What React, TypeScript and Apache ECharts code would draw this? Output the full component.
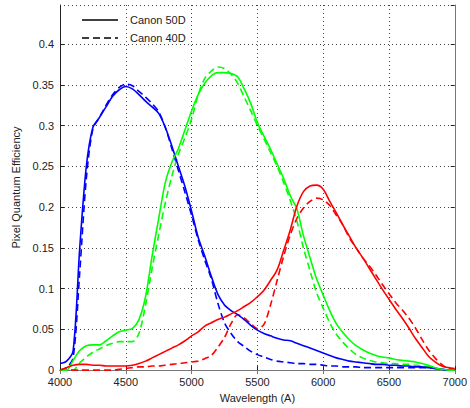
import React, { useEffect, useRef } from "react";
import * as echarts from "echarts";

const wavelengths = [
  4000, 4050, 4100, 4150, 4200, 4250, 4300, 4350, 4400, 4450, 4500, 4550, 4600, 4650, 4700, 4750,
  4800, 4850, 4900, 4950, 5000, 5050, 5100, 5150, 5200, 5250, 5300, 5350, 5400, 5450, 5500, 5550,
  5600, 5650, 5700, 5750, 5800, 5850, 5900, 5950, 6000, 6050, 6100, 6150, 6200, 6250, 6300, 6350,
  6400, 6450, 6500, 6550, 6600, 6650, 6700, 6750, 6800, 6850, 6900, 6950, 7000,
];

const blue50D = [
  0.008, 0.011, 0.024, 0.15, 0.25, 0.298, 0.31, 0.323, 0.336, 0.344, 0.348, 0.345, 0.338, 0.33, 0.323, 0.315,
  0.298, 0.275, 0.25, 0.225, 0.195, 0.163, 0.14, 0.115, 0.093, 0.08, 0.073, 0.068, 0.062, 0.055, 0.049, 0.045,
  0.042, 0.039, 0.037, 0.036, 0.033, 0.03, 0.027, 0.024, 0.021, 0.018, 0.015, 0.013, 0.011, 0.01, 0.009, 0.008,
  0.007, 0.007, 0.006, 0.006, 0.005, 0.005, 0.004, 0.004, 0.003, 0.002, 0.001, 0.0, 0.0,
];

const blue40D = [
  0.0, 0.003, 0.015, 0.12, 0.235, 0.296, 0.31, 0.325, 0.338, 0.347, 0.351, 0.349, 0.342, 0.335, 0.327, 0.317,
  0.298, 0.272, 0.245, 0.218, 0.19, 0.16, 0.135, 0.112, 0.082, 0.058, 0.045, 0.035, 0.029, 0.023, 0.019, 0.016,
  0.013, 0.011, 0.01, 0.009, 0.008, 0.008, 0.007, 0.007, 0.006, 0.005, 0.005, 0.004, 0.004, 0.004, 0.003, 0.003,
  0.003, 0.003, 0.003, 0.003, 0.003, 0.003, 0.003, 0.003, 0.003, 0.002, 0.001, 0.0, 0.0,
];

const green50D = [
  0.0, 0.0, 0.012, 0.024, 0.03, 0.031, 0.031, 0.036, 0.042, 0.047, 0.049, 0.051, 0.062, 0.09, 0.14, 0.186,
  0.23, 0.255, 0.272, 0.295, 0.318, 0.338, 0.352, 0.361, 0.365, 0.365, 0.364, 0.36, 0.345, 0.327, 0.304, 0.287,
  0.271, 0.253, 0.235, 0.214, 0.198, 0.165, 0.138, 0.112, 0.092, 0.073, 0.057, 0.046, 0.037, 0.03, 0.025, 0.021,
  0.018, 0.016, 0.015, 0.013, 0.012, 0.011, 0.01, 0.008, 0.006, 0.003, 0.001, 0.0, 0.0,
];

const green40D = [
  0.0, 0.0, 0.0, 0.009, 0.016, 0.022, 0.026, 0.03, 0.033, 0.035, 0.035, 0.035, 0.045, 0.08, 0.125, 0.166,
  0.205, 0.238, 0.265, 0.285, 0.308, 0.338, 0.358, 0.367, 0.372, 0.37, 0.363, 0.352, 0.335, 0.318, 0.3, 0.284,
  0.267, 0.25, 0.23, 0.208, 0.183, 0.15, 0.122, 0.095, 0.076, 0.058, 0.044, 0.034, 0.026, 0.019, 0.015, 0.012,
  0.01, 0.009, 0.008, 0.008, 0.007, 0.007, 0.006, 0.005, 0.004, 0.003, 0.001, 0.0, 0.0,
];

const red50D = [
  0.0, 0.003, 0.006, 0.007, 0.007, 0.006, 0.006, 0.005, 0.005, 0.005, 0.005, 0.006, 0.008, 0.011, 0.015, 0.019,
  0.023, 0.027, 0.031, 0.036, 0.042, 0.047, 0.054, 0.058, 0.062, 0.065, 0.069, 0.073, 0.078, 0.083, 0.09, 0.098,
  0.11, 0.123, 0.147, 0.172, 0.201, 0.219, 0.226, 0.227, 0.222, 0.207, 0.193, 0.178, 0.164, 0.15, 0.138, 0.125,
  0.112, 0.099, 0.087, 0.075, 0.064, 0.052, 0.039, 0.028, 0.017, 0.01, 0.005, 0.003, 0.002,
];

const red40D = [
  0.0, 0.0, 0.0, 0.0, 0.0, 0.0, 0.0, 0.0, 0.0, 0.001, 0.002, 0.003, 0.004, 0.004, 0.005, 0.005,
  0.006, 0.007, 0.008, 0.009, 0.01, 0.011, 0.014, 0.018, 0.028, 0.04, 0.057, 0.068, 0.064, 0.057, 0.051, 0.056,
  0.08, 0.11, 0.14, 0.166, 0.186, 0.199, 0.207, 0.211, 0.209, 0.202, 0.19, 0.178, 0.162, 0.15, 0.138, 0.128,
  0.117, 0.105, 0.094, 0.083, 0.074, 0.064, 0.052, 0.038, 0.025, 0.015, 0.007, 0.002, 0.0,
];

const legendNames = ["Canon 50D", "Canon 40D"];
const xTitle = "Wavelength (A)";
const yTitle = "Pixel Quantum Efficiency";

const FONT = "'Liberation Sans', Arial, Helvetica, sans-serif";

function pairs(vals: number[]) {
  return wavelengths.map((w, i) => [w, vals[i]]);
}

export default function App() {
  const ref = useRef<HTMLDivElement>(null);
  useEffect(() => {
    if (!ref.current) return;
    const chart = echarts.init(ref.current, null, { renderer: "svg" });
    const dash = [7, 4];
    const LW = 1.6;
    const mk = (name: string, vals: number[], color: string, dashed: boolean) => ({
      name,
      type: "line",
      data: pairs(vals),
      showSymbol: false,
      symbol: "none",
      smooth: 0.3,
      lineStyle: { color, width: LW, type: dashed ? dash : "solid" },
      itemStyle: { color },
      silent: true,
    });
    const legendGraphic = legendNames.flatMap((nm, i) => {
      const y = 20 + i * 18;
      return [
        {
          type: "line",
          shape: { x1: 82, y1: y, x2: 118, y2: y },
          style: { stroke: "#000", lineWidth: LW, lineDash: i === 0 ? null : dash },
          silent: true,
        },
        {
          type: "text",
          x: 130,
          y,
          style: {
            text: nm,
            fill: "#222",
            font: `11px ${FONT}`,
            textVerticalAlign: "middle",
            verticalAlign: "middle",
          },
          silent: true,
        },
      ];
    });
    chart.setOption({
      animation: false,
      backgroundColor: "#ffffff",
      textStyle: { fontFamily: FONT },
      grid: { left: 60, right: 10, top: 5, bottom: 36, containLabel: false },
      graphic: legendGraphic,
      xAxis: [
        {
          type: "value",
          min: 4000,
          max: 7000,
          interval: 500,
          name: xTitle,
          nameLocation: "middle",
          nameGap: 21,
          nameTextStyle: { fontFamily: FONT, fontSize: 11, color: "#222" },
          axisLine: { lineStyle: { color: "#222", width: 1 } },
          axisTick: { inside: true, length: 4, lineStyle: { color: "#222" } },
          axisLabel: {
            fontFamily: FONT,
            fontSize: 11,
            color: "#222",
            margin: 6,
            formatter: (v: number) => String(v),
          },
          splitLine: { show: true, lineStyle: { color: "#444", type: [1, 3], width: 1 } },
        },
        {
          type: "value",
          position: "top",
          min: 4000,
          max: 7000,
          interval: 500,
          axisLine: { show: true, lineStyle: { color: "#777", width: 1 } },
          axisTick: { show: true, inside: true, length: 4, lineStyle: { color: "#777" } },
          axisLabel: { show: false },
          splitLine: { show: false },
        },
      ],
      yAxis: [
        {
          type: "value",
          min: 0,
          max: 0.448,
          interval: 0.05,
          name: yTitle,
          nameLocation: "middle",
          nameGap: 33,
          nameTextStyle: { fontFamily: FONT, fontSize: 11, color: "#222" },
          axisLine: { show: true, lineStyle: { color: "#222", width: 1 } },
          axisTick: { show: true, inside: true, length: 4, lineStyle: { color: "#222" } },
          axisLabel: {
            fontFamily: FONT,
            fontSize: 11,
            color: "#222",
            margin: 6,
            showMaxLabel: false,
            formatter: (v: number) => (v > 0.42 ? "" : String(Math.round(v * 100) / 100)),
          },
          splitLine: { show: true, lineStyle: { color: "#444", type: [1, 3], width: 1 } },
        },
        {
          type: "value",
          position: "right",
          min: 0,
          max: 0.448,
          interval: 0.05,
          axisLine: { show: true, lineStyle: { color: "#777", width: 1 } },
          axisTick: { show: true, inside: true, length: 4, lineStyle: { color: "#222" } },
          axisLabel: { show: false },
          splitLine: { show: false },
        },
      ],
      series: [
        mk("blue40", blue40D, "#0000ff", true),
        mk("green40", green40D, "#00ff00", true),
        mk("red40", red40D, "#ff0000", true),
        mk("blue50", blue50D, "#0000ff", false),
        mk("green50", green50D, "#00ff00", false),
        mk("red50", red50D, "#ff0000", false),
      ],
    });
    return () => chart.dispose();
  }, []);
  return <div ref={ref} style={{ width: 470, height: 408, position: "absolute", left: 0, top: 0 }} />;
}
